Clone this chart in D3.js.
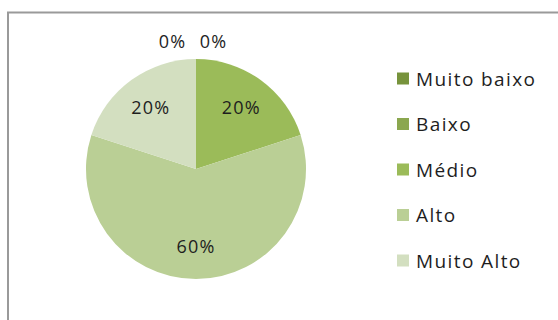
<!DOCTYPE html>
<html>
<head>
<meta charset="utf-8">
<script src="https://cdn.jsdelivr.net/npm/d3@7"></script>
<style>
  html, body { margin: 0; padding: 0; background: #fff; }
  svg { display: block; }
  text { font-family: "Open Sans", "Noto Sans", sans-serif; fill: #1e1e1e; }
</style>
</head>
<body>
<svg id="chart" width="558" height="320"></svg>
<script>
const categories = ["Muito baixo", "Baixo", "Médio", "Alto", "Muito Alto"];
const values = [0, 0, 20, 60, 20];
const valueLabels = ["0%", "0%", "20%", "60%", "20%"];
const colors = ["#77933C", "#8BA74F", "#9BBB59", "#BACF95", "#D3DFC0"];

const width = 558, height = 320;
const svg = d3.select("#chart");

// chart area border (extends past the right and bottom edges)
svg.append("rect")
  .attr("x", 8).attr("y", 12.5)
  .attr("width", 600).attr("height", 400)
  .attr("fill", "#fff")
  .attr("stroke", "#9a9a9a")
  .attr("stroke-width", 2);

const cx = 196, cy = 169, r = 110;
const g = svg.append("g").attr("transform", `translate(${cx},${cy})`);

const pie = d3.pie().sort(null).value(d => d.v);
const data = categories.map((c, i) => ({ c, v: values[i], label: valueLabels[i], color: colors[i], i }));
const arcs = pie(data);

const arc = d3.arc().innerRadius(0).outerRadius(r);
const labelArc = d3.arc().innerRadius(r * 0.7).outerRadius(r * 0.7);
const outerArc = d3.arc().innerRadius(r + 18).outerRadius(r + 18);

g.selectAll("path.slice")
  .data(arcs)
  .join("path")
  .attr("class", "slice")
  .attr("d", arc)
  .attr("fill", d => d.data.color);

// zero-value labels sit outside the pie, spread horizontally
const zeros = arcs.filter(d => d.data.v === 0);
g.selectAll("text.lbl")
  .data(arcs)
  .join("text")
  .attr("class", "lbl")
  .attr("text-anchor", "middle")
  .attr("dominant-baseline", "central")
  .attr("font-size", 18)
  .attr("letter-spacing", 1.2)
  .attr("transform", d => {
    if (d.data.v === 0) {
      const k = zeros.indexOf(d);
      const [x, y] = outerArc.centroid(d);
      const dx = (k - (zeros.length - 1) / 2) * 41 - (zeros.length === 2 ? 3 : 0);
      return `translate(${x + dx},${y})`;
    }
    const [x, y] = labelArc.centroid(d);
    return `translate(${x},${y})`;
  })
  .text(d => d.data.label);

// legend
const legend = svg.append("g").attr("transform", "translate(397,78.5)");
const rowH = 45.5;
const items = legend.selectAll("g.item")
  .data(data)
  .join("g")
  .attr("class", "item")
  .attr("transform", (d, i) => `translate(0,${i * rowH})`);
items.append("rect")
  .attr("x", 0).attr("y", -6)
  .attr("width", 12).attr("height", 12)
  .attr("fill", d => d.color);
items.append("text")
  .attr("x", 19).attr("y", 0)
  .attr("dominant-baseline", "central")
  .attr("font-size", 19)
  .attr("letter-spacing", 1.4)
  .text(d => d.c);
</script>
</body>
</html>
